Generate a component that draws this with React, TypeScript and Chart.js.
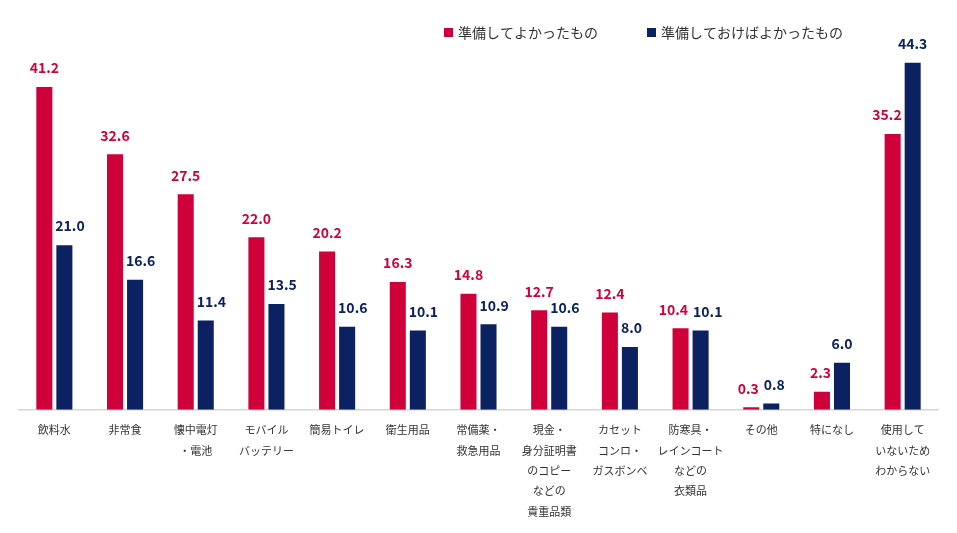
import React, { useEffect, useRef } from 'react';
import { Chart, registerables } from 'chart.js';

Chart.register(...registerables);

const categories: string[][] = [
  ['飲料水'],
  ['非常食'],
  ['懐中電灯', '・電池'],
  ['モバイル', 'バッテリー'],
  ['簡易トイレ'],
  ['衛生用品'],
  ['常備薬・', '救急用品'],
  ['現金・', '身分証明書', 'のコピー', 'などの', '貴重品類'],
  ['カセット', 'コンロ・', 'ガスボンベ'],
  ['防寒具・', 'レインコート', 'などの', '衣類品'],
  ['その他'],
  ['特になし'],
  ['使用して', 'いないため', 'わからない'],
];

const seriesNames = ['準備してよかったもの', '準備しておけばよかったもの'];
const preparedGood = [41.2, 32.6, 27.5, 22.0, 20.2, 16.3, 14.8, 12.7, 12.4, 10.4, 0.3, 2.3, 35.2];
const shouldHave = [21.0, 16.6, 11.4, 13.5, 10.6, 10.1, 10.9, 10.6, 8.0, 10.1, 0.8, 6.0, 44.3];

const RED = '#d0003a';
const NAVY = '#0b2161';
const FONT = '"Noto Sans CJK JP", "Noto Sans", sans-serif';

// value labels above each bar, nudged sideways so they don't collide
const valueLabels = {
  id: 'valueLabels',
  afterDatasetsDraw(chart: any) {
    const ctx = chart.ctx;
    const dsA = chart.data.datasets[0];
    const dsB = chart.data.datasets[1];
    const metaA = chart.getDatasetMeta(0);
    const metaB = chart.getDatasetMeta(1);
    const OFF = 19;
    const GAP = 3;
    ctx.save();
    ctx.font = `bold 14px ${FONT}`;
    ctx.textAlign = 'center';
    ctx.textBaseline = 'middle';
    metaA.data.forEach((barA: any, j: number) => {
      const barB = metaB.data[j];
      const tA = Number(dsA.data[j]).toFixed(1);
      const tB = Number(dsB.data[j]).toFixed(1);
      const wA = ctx.measureText(tA).width;
      const wB = ctx.measureText(tB).width;
      let xA = barA.x;
      let xB = barB.x;
      const yA = barA.y - OFF;
      const yB = barB.y - OFF;
      const halfA = barA.width / 2;
      const halfB = barB.width / 2;
      if (Math.abs(yA - yB) < 16) {
        const need = wA / 2 + wB / 2 + 5;
        const have = xB - xA;
        if (have < need) {
          const s = (need - have) / 2;
          xA -= s;
          xB += s;
        }
      } else if (barB.y < yA + 8) {
        // taller navy bar next to red label
        const limit = barB.x - halfB - GAP;
        if (xA + wA / 2 > limit) xA = limit - wA / 2;
      } else if (barA.y < yB + 8) {
        // taller red bar next to navy label
        const limit = barA.x + halfA + GAP;
        if (xB - wB / 2 < limit) xB = limit + wB / 2;
      }
      ctx.fillStyle = dsA.backgroundColor;
      ctx.fillText(tA, xA, yA);
      ctx.fillStyle = dsB.backgroundColor;
      ctx.fillText(tB, xB, yB);
    });
    ctx.restore();
  },
};

// legend drawn at top right
const topLegend = {
  id: 'topLegend',
  afterDraw(chart: any) {
    const ctx = chart.ctx;
    const starts = [444, 647];
    ctx.save();
    ctx.font = `14px ${FONT}`;
    ctx.textBaseline = 'middle';
    ctx.textAlign = 'left';
    chart.data.datasets.forEach((ds: any, i: number) => {
      const x = starts[i];
      ctx.fillStyle = ds.backgroundColor;
      ctx.fillRect(x, 28, 9, 9);
      ctx.fillStyle = '#333333';
      ctx.fillText(ds.label, x + 14, 32.5);
    });
    ctx.restore();
  },
};

export default function App() {
  const canvasRef = useRef<HTMLCanvasElement>(null);

  useEffect(() => {
    if (!canvasRef.current) return;
    const chart = new Chart(canvasRef.current, {
      type: 'bar',
      data: {
        labels: categories as any,
        datasets: [
          { label: seriesNames[0], data: preparedGood, backgroundColor: RED },
          { label: seriesNames[1], data: shouldHave, backgroundColor: NAVY },
        ],
      },
      options: {
        animation: false,
        responsive: true,
        maintainAspectRatio: false,
        layout: { padding: { left: 19, right: 19, top: 18, bottom: 1 } },
        datasets: {
          bar: { categoryPercentage: 0.567, barPercentage: 0.8 },
        },
        scales: {
          x: {
            grid: { display: false, drawTicks: false },
            border: { display: true, color: '#d6d6d6', width: 1.5 },
            ticks: {
              color: '#333333',
              padding: 10,
              maxRotation: 0,
              autoSkip: false,
              font: { family: FONT, size: 11, lineHeight: 1.86 },
            },
          },
          y: {
            display: false,
            min: 0,
            max: 50,
          },
        },
        plugins: {
          legend: { display: false },
          tooltip: { enabled: false },
        },
      },
      plugins: [valueLabels, topLegend],
    });
    return () => chart.destroy();
  }, []);

  return (
    <div style={{ position: 'fixed', left: 0, top: 0, width: 957, height: 533, background: '#fff' }}>
      <canvas ref={canvasRef}></canvas>
    </div>
  );
}
